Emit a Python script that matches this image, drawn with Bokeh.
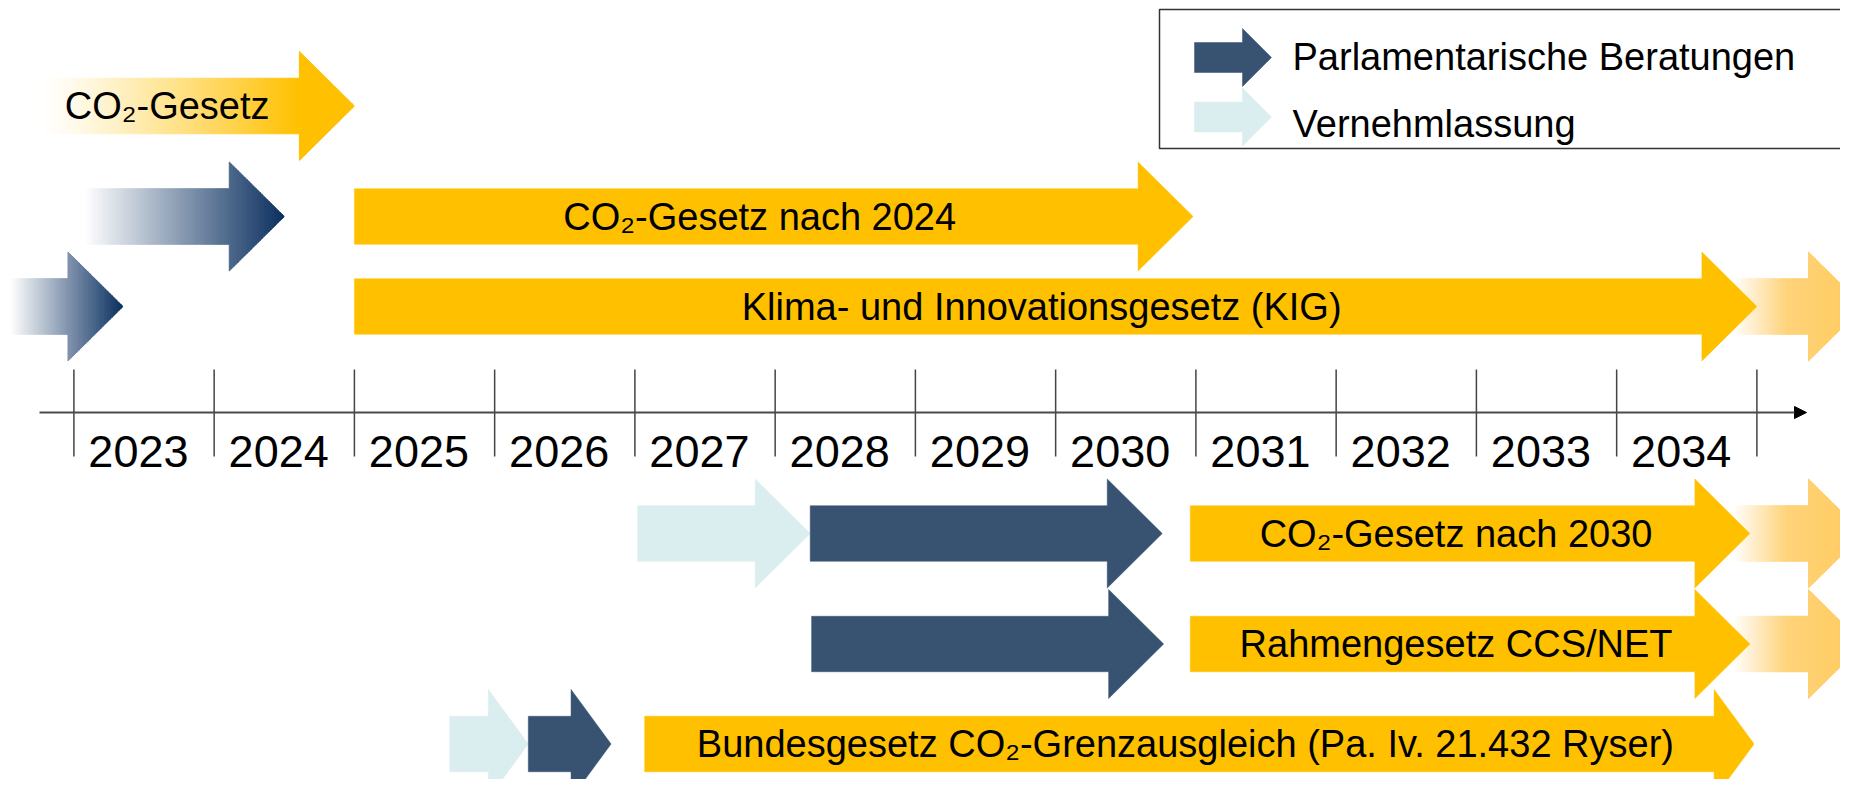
import numpy as np
from bokeh.plotting import figure
from bokeh.models import Range1d, Arrow, NormalHead
from bokeh.core.properties import value
from bokeh.embed import file_html
from bokeh.resources import INLINE

# ---------------- data ----------------
years = [2023, 2024, 2025, 2026, 2027, 2028, 2029, 2030, 2031, 2032, 2033, 2034]
year_labels = [str(y) for y in years]

# one entry per arrow: lane (row, top to bottom), kind, start year, end year (tip), label
phase_lane = ["A", "B", "B", "C", "C", "C",
              "D", "D", "D", "D", "E", "E", "E", "F", "F", "F"]
phase_kind = ["law_in", "parl_fade", "law", "parl_fade", "law", "law_cont",
              "vern", "parl", "law", "law_cont", "parl", "law", "law_cont",
              "vern", "parl", "law"]
phase_start = [2022.77, 2023.08, 2025.00, 2022.55, 2025.00, 2034.83,
               2027.02, 2028.25, 2030.96, 2034.83, 2028.26, 2030.96, 2034.83,
               2025.68, 2026.24, 2027.07]
phase_end = [2025.00, 2024.50, 2030.98, 2023.35, 2035.00, 2035.76,
             2028.25, 2030.76, 2034.95, 2035.76, 2030.77, 2034.95, 2035.76,
             2026.24, 2026.83, 2034.98]
phase_label = ["CO₂-Gesetz", "", "CO₂-Gesetz nach 2024", "", "Klima- und Innovationsgesetz (KIG)", "",
               "", "", "CO₂-Gesetz nach 2030", "", "", "Rahmengesetz CCS/NET", "",
               "", "", "Bundesgesetz CO₂-Grenzausgleich (Pa. Iv. 21.432 Ryser)"]

legend_kinds = ["parl", "vern"]
legend_labels = ["Parlamentarische Beratungen", "Vernehmlassung"]

# ---------------- layout / style ----------------
W, H = 1840, 779
PX_PER_YEAR = 140.25
X0 = 2023 - 73.4 / PX_PER_YEAR
X1 = X0 + W / PX_PER_YEAR


def px_x(px):
    """canvas pixel -> x data"""
    return X0 + px / PX_PER_YEAR


lane_y = {"A": 105.5, "B": 216, "C": 306, "D": 533, "E": 643.5, "F": 743.5}
lane_head_px = {"A": 55, "B": 55, "C": 55, "D": 55, "E": 55, "F": 40}
AXIS_Y = 412
BODY_H = 27.75
HEAD_H = 54.5

YELLOW = "#FFC000"
DARK = "#385272"
LIGHT = "#DAEDEF"
NAVY = "#0B3060"
CONT_MID = "#FFD37A"
CONT_END = "#FFCA5C"
FONT = "Liberation Sans"


def hex2rgb(h):
    h = h.lstrip("#")
    return np.array([int(h[i:i + 2], 16) for i in (0, 2, 4)], dtype=float)


def mix(c1, c2, t):
    a, b = hex2rgb(c1), hex2rgb(c2)
    c = a + (b - a) * min(max(t, 0.0), 1.0)
    return "#%02x%02x%02x" % tuple(int(round(v)) for v in c)


def arrow_poly(x0, x1, yc, head, bh=BODY_H, hh=HEAD_H):
    xh = x1 - head
    xs = [x0, xh, xh, x1, xh, xh, x0]
    ys = [yc - bh, yc - bh, yc - hh, yc, yc + hh, yc + bh, yc + bh]
    return xs, ys


def half_at(x, xh, x1, head, bh, hh):
    if x <= xh + 1e-12:
        return bh
    return hh * (x1 - x) / head


def strip_arrow(x0, x1, yc, head, colorfn, nb=70, nh=25, bh=BODY_H, hh=HEAD_H):
    xh = x1 - head
    edges = list(np.linspace(x0, xh, nb + 1)) + list(np.linspace(xh, x1, nh + 1)[1:])
    xs, ys, cs = [], [], []
    for i in range(len(edges) - 1):
        a, b = edges[i], edges[i + 1]
        if a < xh - 1e-12:
            ha = hb = bh
        else:
            ha = half_at(a, xh, x1, head, bh, hh) if a > xh + 1e-12 else hh
            hb = half_at(b, xh, x1, head, bh, hh)
        xs.append([a, b, b, a])
        ys.append([yc - ha, yc - hb, yc + hb, yc + ha])
        cs.append(colorfn((a + b) / 2))
    return xs, ys, cs


p = figure(width=W, height=H, x_range=Range1d(X0, X1), y_range=Range1d(H, 0),
           output_backend="svg", toolbar_location=None, min_border=0)
p.axis.visible = False
p.grid.visible = False
p.outline_line_color = None
p.background_fill_color = "white"
p.border_fill_color = "white"

solid_xs, solid_ys, solid_cs = [], [], []
grad_xs, grad_ys, grad_cs = [], [], []

for lane, kind, s, e in zip(phase_lane, phase_kind, phase_start, phase_end):
    yc = lane_y[lane]
    head = lane_head_px[lane] / PX_PER_YEAR
    if kind in ("law", "parl", "vern"):
        xs, ys = arrow_poly(s, e, yc, head)
        solid_xs.append(xs)
        solid_ys.append(ys)
        solid_cs.append({"law": YELLOW, "parl": DARK, "vern": LIGHT}[kind])
    else:
        xh = e - head
        if kind == "law_in":
            fn = (lambda x, s=s, xh=xh: mix("#FFFFFF", YELLOW, ((x - s) / (xh - s)) ** 1.2))
        elif kind == "parl_fade":
            fn = (lambda x, s=s, e=e: mix("#FFFFFF", NAVY, (x - s) / (e - s)))
        else:  # law_cont
            fn = (lambda x, s=s, xh=xh, e=e:
                  mix("#FFFFFF", CONT_MID, (x - s) / (xh - 0.15 - s)) if x < xh - 0.15
                  else mix(CONT_MID, CONT_END, (x - xh + 0.15) / (e - xh + 0.15)))
        xs, ys, cs = strip_arrow(s, e, yc, head, fn)
        grad_xs += xs
        grad_ys += ys
        grad_cs += cs

p.patches(grad_xs, grad_ys, fill_color=grad_cs, line_color=grad_cs, line_width=1)
p.patches(solid_xs, solid_ys, fill_color=solid_cs, line_color=solid_cs, line_width=0.5)

# bar labels
lab_x, lab_y, lab_t = [], [], []
for lane, kind, s, e, t in zip(phase_lane, phase_kind, phase_start, phase_end, phase_label):
    if not t:
        continue
    shift = -0.22 if kind == "law_in" else -0.1
    lab_x.append((s + e) / 2 + shift)
    lab_y.append(lane_y[lane])
    lab_t.append(t)
p.text(lab_x, lab_y, text=lab_t, text_font=value(FONT), text_font_size="38px",
       text_align="center", text_baseline="middle", text_color="black")

# time axis
ticks = years + [years[-1] + 1]
p.segment(x0=ticks, y0=[369] * len(ticks), x1=ticks, y1=[456] * len(ticks),
          line_color="#444444", line_width=1.5)
p.add_layout(Arrow(end=NormalHead(size=12, fill_color="black", line_color="black"),
                   x_start=px_x(39), y_start=AXIS_Y, x_end=px_x(1806), y_end=AXIS_Y,
                   line_color="#4a4a4a", line_width=2))
p.text([y + 0.46 for y in years], [451] * len(years), text=year_labels,
       text_font=value(FONT), text_font_size="45px", text_align="center",
       text_baseline="middle", text_color="black")

# legend
p.quad(left=[px_x(1159)], right=[px_x(1842)], top=[9], bottom=[148],
       fill_color="white", line_color="#333333", line_width=1.5)
leg_arrow_y = [57, 116.5]
leg_text_y = [56, 123]
lx, ly, lc = [], [], []
for k, yy in zip(legend_kinds, leg_arrow_y):
    xs, ys = arrow_poly(px_x(1194), px_x(1271), yy, 29 / PX_PER_YEAR, bh=15, hh=29)
    lx.append(xs)
    ly.append(ys)
    lc.append({"parl": DARK, "vern": LIGHT}[k])
p.patches(lx, ly, fill_color=lc, line_color=lc, line_width=0.5)
p.text([px_x(1292)] * 2, leg_text_y, text=legend_labels, text_font=value(FONT),
       text_font_size="38px", text_align="left", text_baseline="middle", text_color="black")

open("out.html", "w").write(file_html(p, INLINE))
